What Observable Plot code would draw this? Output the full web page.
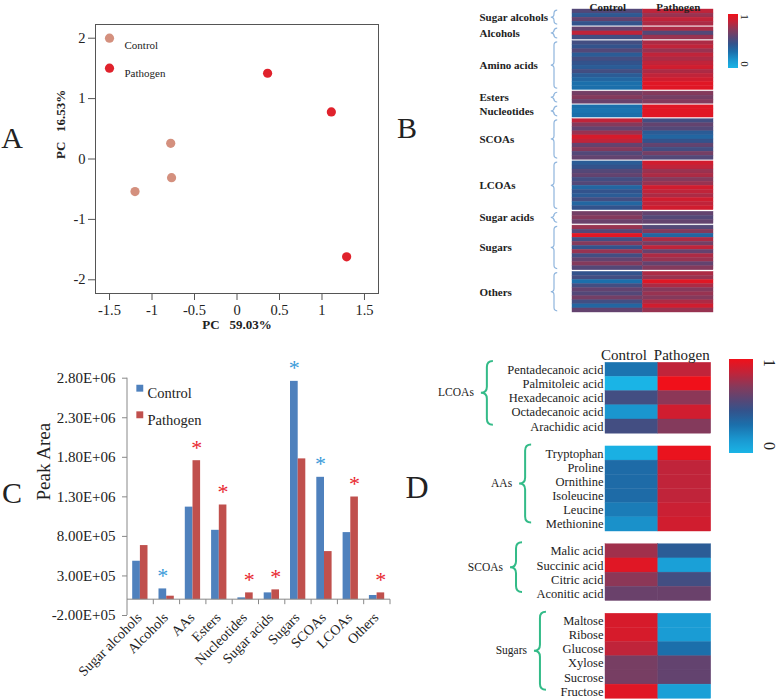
<!DOCTYPE html>
<html><head><meta charset="utf-8">
<script src="https://cdn.jsdelivr.net/npm/d3@7"></script>
<script src="https://cdn.jsdelivr.net/npm/@observablehq/plot@0.6"></script>
<style>
body{margin:0;background:#fff;}
#root{position:relative;width:778px;height:700px;overflow:hidden;font-family:"Liberation Serif","Times New Roman",serif;color:#222;}
.panel{position:absolute;}
.abs{position:absolute;transform:translate(-50%,-50%);line-height:1;white-space:nowrap;}
</style></head><body><div id="root"></div>
<script>
// ================= DATA =================
// Panel A: PCA scores
const pcaGroups = ["Control","Control","Control","Pathogen","Pathogen","Pathogen"];
const pcaPC1 = [-0.78, -0.77, -1.20, 0.36, 1.11, 1.29];
const pcaPC2 = [0.26, -0.31, -0.54, 1.42, 0.78, -1.62];
const pcaXTicks = [-1.5, -1, -0.5, 0, 0.5, 1, 1.5];
const pcaYTicks = [-2, -1, 0, 1, 2];
const pcaXLabel = "PC\u00a0\u00a0\u00a059.03%";
const pcaYLabel = "PC\u00a0\u00a0\u00a016.53%";

// Panel B: class heatmap (normalised 0..1)
const hmColumns = ["Control","Pathogen"];
const hmClasses = ["Sugar alcohols","Alcohols","Amino acids","Esters","Nucleotides","SCOAs","LCOAs","Sugar acids","Sugars","Others"];
const hmControl = [
  [0.55,0.42,0.6,0.45],
  [0.6,0.85,0.5],
  [0.5,0.45,0.55,0.4,0.5,0.45,0.4,0.5,0.4,0.35,0.3,0.3],
  [0.65,0.7,0.62],
  [0.3,0.28,0.3],
  [0.85,0.7,0.6,0.75,0.92,0.85,0.6,0.7,0.55,0.6],
  [0.4,0.45,0.55,0.6,0.5,0.55,0.35,0.45,0.4,0.5,0.35,0.45],
  [0.65,0.7,0.62],
  [0.75,0.55,0.95,0.5,0.7,0.45,0.75,0.5,0.6,0.7,0.55],
  [0.45,0.5,0.3,0.5,0.6,0.55,0.65,0.5,0.35,0.6]
];
const hmPathogen = [
  [0.85,0.75,0.85,0.8],
  [0.8,0.55,0.75],
  [0.8,0.85,0.75,0.85,0.8,0.85,0.9,0.8,0.85,0.9,0.95,0.95],
  [0.7,0.65,0.7],
  [0.95,0.95,0.95],
  [0.5,0.6,0.55,0.4,0.35,0.45,0.6,0.5,0.65,0.55],
  [0.9,0.85,0.75,0.8,0.7,0.75,0.9,0.85,0.8,0.9,0.85,0.9],
  [0.6,0.55,0.6],
  [0.55,0.7,0.35,0.8,0.65,0.85,0.6,0.8,0.75,0.6,0.7],
  [0.8,0.75,0.95,0.8,0.7,0.75,0.7,0.8,0.9,0.75]
];

// Panel C: peak areas
const barSeries = ["Control","Pathogen"];
const barCategories = ["Sugar alcohols","Alcohols","AAs","Esters","Nucleotides","Sugar acids","Sugars","SCOAs","LCOAs","Others"];
const barControl  = [486000, 136000, 1170000, 877000, 23000, 86000, 2760000, 1547000, 848000, 53000];
const barPathogen = [684000, 44000, 1757000, 1197000, 86000, 124000, 1780000, 608000, 1298000, 86000];
const barStar = ["", "Control", "Pathogen", "Pathogen", "Pathogen", "Pathogen", "Control", "Control", "Pathogen", "Pathogen"];
const barYTicks = [-200000, 300000, 800000, 1300000, 1800000, 2300000, 2800000];
const barYTickLabels = ["-2.00E+05","3.00E+05","8.00E+05","1.30E+06","1.80E+06","2.30E+06","2.80E+06"];
const barYLabel = "Peak Area";

// Panel D: compound heatmap (normalised 0..1)
const dGroups = ["LCOAs","AAs","SCOAs","Sugars"];
const dCompounds = [
  ["Pentadecanoic acid","Palmitoleic acid","Hexadecanoic acid","Octadecanoic acid","Arachidic acid"],
  ["Tryptophan","Proline","Ornithine","Isoleucine","Leucine","Methionine"],
  ["Malic acid","Succinic acid","Citric acid","Aconitic acid"],
  ["Maltose","Ribose","Glucose","Xylose","Sucrose","Fructose"]
];
const dControl = [
  [0.28,0.0,0.5,0.15,0.5],
  [0.02,0.32,0.32,0.32,0.25,0.17],
  [0.77,0.95,0.72,0.62],
  [0.92,0.92,0.85,0.66,0.66,0.95]
];
const dPathogen = [
  [0.85,1.0,0.72,0.9,0.7],
  [0.98,0.85,0.85,0.85,0.88,0.9],
  [0.4,0.1,0.5,0.62],
  [0.12,0.12,0.3,0.6,0.6,0.1]
];

// ================= STYLE =================
const SERIF = '"Liberation Serif","Times New Roman",serif';
const heatStops  = [0, 0.15, 0.3, 0.45, 0.55, 0.7, 0.85, 1];
const heatColors = ["#1ab4e6","#1a96cf","#1b6fab","#33538c","#534878","#843a5c","#c0243a","#f0101a"];
const heat = d3.scaleLinear().domain(heatStops).range(heatColors).interpolate(d3.interpolateRgb).clamp(true);
const heatGradient = "linear-gradient(to top," + d3.range(0, 1.0001, 0.05).map(t => `${heat(t)} ${(t*100).toFixed(1)}%`).join(",") + ")";

const root = document.getElementById("root");
function place(node, left, top) {
  const d = document.createElement("div");
  d.className = "panel"; d.style.left = left + "px"; d.style.top = top + "px";
  d.appendChild(node); root.appendChild(d); return d;
}
function label(text, cx, cy, css) {
  const d = document.createElement("div");
  d.className = "abs"; d.textContent = text;
  d.style.left = cx + "px"; d.style.top = cy + "px";
  Object.assign(d.style, css || {});
  root.appendChild(d); return d;
}
function bracePath(x, y0, y1, h) {
  const ym = (y0 + y1) / 2;
  return `M${x+h},${y0}Q${x},${y0} ${x},${y0+h}L${x},${ym-h}Q${x},${ym} ${x-h},${ym}Q${x},${ym} ${x},${ym+h}L${x},${y1-h}Q${x},${y1} ${x+h},${y1}`;
}
const canvasCtx = document.createElement("canvas").getContext("2d");
function textWidth(s, font) { canvasCtx.font = font; return canvasCtx.measureText(s).width; }

// ================= PANEL A =================
const pcaData = pcaGroups.map((g, i) => ({group: g, pc1: pcaPC1[i], pc2: pcaPC2[i]}));
const plotA = Plot.plot({
  width: 390, height: 335,
  marginLeft: 95, marginTop: 24, marginRight: 12, marginBottom: 42,
  style: {fontFamily: SERIF, fontSize: "14.5px", color: "#222", background: "none"},
  x: {domain: [-1.665, 1.665]},
  y: {domain: [-2.227, 2.227]},
  color: {domain: ["Control","Pathogen"], range: ["#d4907e","#e0222c"]},
  marks: [
    Plot.frame({stroke: "#555"}),
    Plot.axisX({ticks: pcaXTicks, tickFormat: d => String(d), tickSize: 7, tickPadding: 4, label: null, stroke: "#555"}),
    Plot.axisY({ticks: pcaYTicks, tickFormat: d => String(d), tickSize: 7, tickPadding: 3, label: null, stroke: "#555"}),
    Plot.dot(pcaData, {x: "pc1", y: "pc2", fill: "group", r: 4.6}),
    Plot.dot(["Control"], {frameAnchor: "top-left", fill: d => d, r: 4.6, dx: 14, dy: 13.7}),
    Plot.text(["Control"], {frameAnchor: "top-left", text: d => d, dx: 29, dy: 17, textAnchor: "start", fontSize: 11}),
    Plot.dot(["Pathogen"], {frameAnchor: "top-left", fill: d => d, r: 4.6, dx: 14, dy: 43.7}),
    Plot.text(["Pathogen"], {frameAnchor: "top-left", text: d => d, dx: 29, dy: 45, textAnchor: "start", fontSize: 11}),
    Plot.text([pcaXLabel], {frameAnchor: "bottom", text: d => d, dy: 35, fontWeight: "bold", fontSize: 13}),
    Plot.text([pcaYLabel], {frameAnchor: "left", text: d => d, dx: -35, rotate: -90, fontWeight: "bold", fontSize: 13})
  ]
});
place(plotA, 0, 0);

// ================= PANEL B =================
const B_GAP = 0.4;
const bRows = [], bSpans = [];
{
  let cum = 0;
  hmClasses.forEach((cls, g) => {
    const n = hmControl[g].length, start = cum + g * B_GAP;
    for (let j = 0; j < n; j++) {
      bRows.push({cls, col: "Control", r0: start + j, r1: start + j + 1, v: hmControl[g][j]});
      bRows.push({cls, col: "Pathogen", r0: start + j, r1: start + j + 1, v: hmPathogen[g][j]});
    }
    bSpans.push({cls, b0: start, b1: start + n});
    cum += n;
  });
}
const bTotal = d3.max(bSpans, d => d.b1);
const plotB = Plot.plot({
  width: 388, height: 330,
  marginLeft: 182, marginRight: 65, marginTop: 9, marginBottom: 18,
  style: {fontFamily: SERIF, fontSize: "11px", color: "#222", background: "none"},
  x: {domain: hmColumns, padding: 0, round: false, axis: null},
  y: {domain: [0, bTotal], reverse: true, axis: null},
  color: {type: "linear", domain: [0, 1], interpolate: t => heat(t)},
  marks: [
    Plot.barY(bRows, {x: "col", y1: "r0", y2: "r1", fill: "v", stroke: "v", strokeWidth: 0.4}),
    Plot.text(hmColumns, {x: d => d, frameAnchor: "top", text: d => d, dy: -6, fontWeight: "bold", fontSize: 11}),
    Plot.text(bSpans, {y: d => (d.b0 + d.b1) / 2, frameAnchor: "left", text: "cls", dx: -93, textAnchor: "start", fontWeight: "bold", fontSize: 11}),
    (index, scales, values, dims) => {
      const g = d3.create("svg:g").attr("fill", "none").attr("stroke", "#8fb5dd").attr("stroke-width", 1.2);
      for (const s of bSpans) {
        g.append("path").attr("d", bracePath(dims.marginLeft - 18, scales.y(s.b0 + 0.3), scales.y(s.b1 - 0.3), 3.2));
      }
      return g.node();
    }
  ]
});
place(plotB, 390, 0);
// Panel B colour legend
{
  const bar = document.createElement("div");
  Object.assign(bar.style, {position: "absolute", left: "728px", top: "14px", width: "10px", height: "54px", background: heatGradient});
  root.appendChild(bar);
  label("1", 744, 17, {fontSize: "11px", transform: "translate(-50%,-50%) rotate(90deg)"});
  label("0", 744, 64, {fontSize: "11px", transform: "translate(-50%,-50%) rotate(90deg)"});
}

// ================= PANEL C =================
const barData = barCategories.map((c, i) => ({cat: c, control: barControl[i], pathogen: barPathogen[i], star: barStar[i]}));
const BLUE = "#4f81bd", RED = "#c0504d", STAR_BLUE = "#3a9ad9", STAR_RED = "#e8262e";
const plotC = Plot.plot({
  width: 400, height: 365,
  marginLeft: 127, marginRight: 10, marginTop: 42.7, marginBottom: 85,
  style: {fontFamily: SERIF, fontSize: "15px", color: "#222", background: "none"},
  x: {domain: barCategories, padding: 0, round: false, axis: null},
  y: {domain: [-200000, 2800000], axis: null},
  marks: [
    Plot.axisY({ticks: barYTicks, tickFormat: d => barYTickLabels[barYTicks.indexOf(d)], tickSize: 5, tickPadding: 7, stroke: "#888", label: null}),
    Plot.barY(barData, {x: "cat", y: "control", fill: BLUE, insetLeft: 5.2, insetRight: 13.4}),
    Plot.barY(barData, {x: "cat", y: "pathogen", fill: RED, insetLeft: 12.9, insetRight: 5.8}),
    (index, scales, values, dims) => {
      const g = d3.create("svg:g").attr("stroke", "#888").attr("fill", "none").attr("stroke-width", 1);
      const x0 = dims.marginLeft, x1 = dims.width - dims.marginRight;
      const yTop = dims.marginTop, yBot = dims.height - dims.marginBottom, y0 = scales.y(0);
      g.append("line").attr("x1", x0).attr("x2", x0).attr("y1", yTop).attr("y2", yBot);
      g.append("line").attr("x1", x0).attr("x2", x1).attr("y1", y0).attr("y2", y0);
      const bounds = barCategories.slice(1).map(c => scales.x(c)).concat([x1]);
      for (const bx of bounds) g.append("line").attr("x1", bx).attr("x2", bx).attr("y1", y0).attr("y2", y0 + 5);
      return g.node();
    },
    Plot.text(barCategories, {x: d => d, frameAnchor: "bottom", text: d => d, rotate: -45, textAnchor: "end", dx: 2, dy: 3, fontSize: 14}),
    Plot.text(barData.filter(d => d.star === "Control"), {x: "cat", y: "control", text: () => "*", fill: STAR_BLUE, dx: -4.2, dy: -13, fontSize: 22}),
    Plot.text(barData.filter(d => d.star === "Pathogen"), {x: "cat", y: "pathogen", text: () => "*", fill: STAR_RED, dx: 3.5, dy: -13, fontSize: 22}),
    Plot.dot([barSeries[0]], {frameAnchor: "top-left", symbol: "square", r: 3.9, fill: BLUE, dx: 12.3, dy: 10}),
    Plot.text([barSeries[0]], {frameAnchor: "top-left", text: d => d, textAnchor: "start", dx: 20, dy: 10, fontSize: 14.5}),
    Plot.dot([barSeries[1]], {frameAnchor: "top-left", symbol: "square", r: 3.9, fill: RED, dx: 12.3, dy: 36.6}),
    Plot.text([barSeries[1]], {frameAnchor: "top-left", text: d => d, textAnchor: "start", dx: 20, dy: 36.6, fontSize: 14.5}),
    Plot.text([barYLabel], {frameAnchor: "left", text: d => d, dx: -84, dy: 3.6, rotate: -90, fontSize: 19})
  ]
});
place(plotC, 0, 335);

// ================= PANEL D =================
const D_GAP = 0.9;
const dRows = [], dSpans = [];
{
  let cum = 0;
  dGroups.forEach((grp, g) => {
    const names = dCompounds[g], start = cum + g * D_GAP;
    names.forEach((name, j) => {
      dRows.push({grp, name, col: "Control", r0: start + j, r1: start + j + 1, v: dControl[g][j]});
      dRows.push({grp, name, col: "Pathogen", r0: start + j, r1: start + j + 1, v: dPathogen[g][j]});
    });
    dSpans.push({grp, names, b0: start, b1: start + names.length});
    cum += names.length;
  });
}
const dTotal = d3.max(dSpans, d => d.b1);
const D_ROW_FONT = 12.5;
const plotD = Plot.plot({
  width: 388, height: 365,
  marginLeft: 215, marginRight: 67.3, marginTop: 27.3, marginBottom: 1.7,
  style: {fontFamily: SERIF, fontSize: D_ROW_FONT + "px", color: "#222", background: "none"},
  x: {domain: hmColumns, padding: 0, round: false, axis: null},
  y: {domain: [0, dTotal], reverse: true, axis: null},
  color: {type: "linear", domain: [0, 1], interpolate: t => heat(t)},
  marks: [
    Plot.barY(dRows, {x: "col", y1: "r0", y2: "r1", fill: "v", stroke: "v", strokeWidth: 0.4}),
    Plot.text([hmColumns[0]], {x: d => d, frameAnchor: "top", text: d => d, dx: -8, dy: -13, fontSize: 15}),
    Plot.text([hmColumns[1]], {x: d => d, frameAnchor: "top", text: d => d, dx: -3, dy: -13, fontSize: 15}),
    Plot.text(dRows.filter(d => d.col === "Control"), {y: d => (d.r0 + d.r1) / 2, frameAnchor: "left", text: "name", textAnchor: "end", dx: -2}),
    (index, scales, values, dims) => {
      const g = d3.create("svg:g");
      const font = `${D_ROW_FONT}px "Liberation Serif"`;
      for (const s of dSpans) {
        const w = d3.max(s.names, n => textWidth(n, font));
        const bx = dims.marginLeft - 2 - w - 20;
        const y0 = scales.y(s.b0 - 0.1), y1 = scales.y(s.b1 - 0.6);
        g.append("path").attr("d", bracePath(bx, y0, y1, 6))
          .attr("fill", "none").attr("stroke", "#33bb88").attr("stroke-width", 2);
        g.append("text").attr("x", bx - 13).attr("y", (y0 + y1) / 2).attr("dy", "0.32em")
          .attr("text-anchor", "end").attr("font-size", 11.5).attr("fill", "#222").text(s.grp);
      }
      return g.node();
    }
  ]
});
place(plotD, 390, 335);
// Panel D colour legend
{
  const bar = document.createElement("div");
  Object.assign(bar.style, {position: "absolute", left: "729px", top: "359px", width: "24px", height: "94px", background: heatGradient});
  root.appendChild(bar);
  label("1", 769, 363, {fontSize: "16px", transform: "translate(-50%,-50%) rotate(90deg)"});
  label("0", 769, 446, {fontSize: "16px", transform: "translate(-50%,-50%) rotate(90deg)"});
}

// ================= PANEL LETTERS =================
label("A", 12, 138, {fontSize: "30px"});
label("B", 407, 128, {fontSize: "30px"});
label("C", 12, 493, {fontSize: "30px"});
label("D", 417, 487, {fontSize: "32px"});
</script>
</body></html>
